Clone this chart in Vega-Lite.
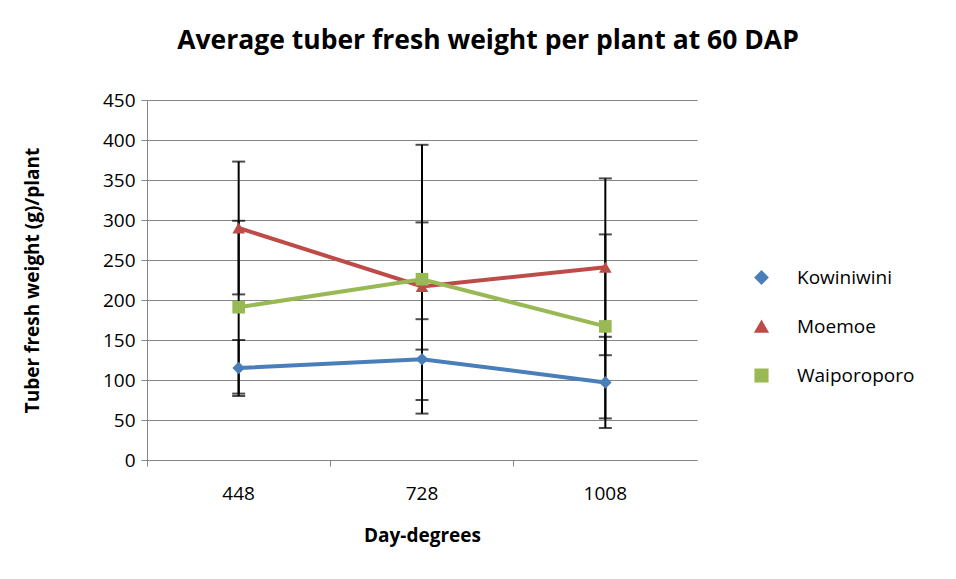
{
  "$schema": "https://vega.github.io/schema/vega-lite/v6.json",
  "autosize": {"type": "none"},
  "width": 550,
  "height": 360,
  "padding": {"left": 147, "top": 100, "right": 259, "bottom": 119},
  "background": "white",
  "title": {
    "text": "Average tuber fresh weight per plant at 60 DAP",
    "font": "Open Sans",
    "fontSize": 26.5,
    "fontWeight": "bold",
    "color": "black",
    "anchor": "middle",
    "dx": 66,
    "offset": 37
  },
  "data": {
    "values": [
      {"day": "448", "variety": "Kowiniwini", "mean": 115, "lo": 80, "hi": 150},
      {"day": "728", "variety": "Kowiniwini", "mean": 126, "lo": 75, "hi": 176},
      {"day": "1008", "variety": "Kowiniwini", "mean": 97, "lo": 40, "hi": 154},
      {"day": "448", "variety": "Moemoe", "mean": 290, "lo": 207, "hi": 373},
      {"day": "728", "variety": "Moemoe", "mean": 217, "lo": 138, "hi": 297},
      {"day": "1008", "variety": "Moemoe", "mean": 241, "lo": 131, "hi": 352},
      {"day": "448", "variety": "Waiporoporo", "mean": 191, "lo": 83, "hi": 299},
      {"day": "728", "variety": "Waiporoporo", "mean": 226, "lo": 58, "hi": 394},
      {"day": "1008", "variety": "Waiporoporo", "mean": 167, "lo": 52, "hi": 282}
    ]
  },
  "encoding": {
    "x": {
      "field": "day",
      "type": "nominal",
      "sort": ["448", "728", "1008"],
      "scale": {"type": "band", "paddingInner": 0, "paddingOuter": 0},
      "axis": {
        "title": "Day-degrees",
        "titleFont": "Open Sans",
        "titleFontSize": 19,
        "titleFontWeight": "bold",
        "titleColor": "black",
        "titlePadding": 23,
        "labelFont": "Open Sans",
        "labelFontSize": 19,
        "labelColor": "black",
        "labelAngle": 0,
        "labelPadding": 18,
        "bandPosition": 0,
        "tickSize": 6,
        "tickColor": "#868686",
        "domainColor": "#868686",
        "grid": false
      }
    }
  },
  "layer": [
    {
      "mark": {"type": "rule", "color": "black", "strokeWidth": 2},
      "encoding": {
        "y": {
          "field": "lo",
          "type": "quantitative",
          "scale": {"domain": [0, 450], "nice": false},
          "axis": {
            "title": "Tuber fresh weight (g)/plant",
            "titleFont": "Open Sans",
            "titleFontSize": 19,
            "titleFontWeight": "bold",
            "titleColor": "black",
            "titlePadding": 60,
            "labelFont": "Open Sans",
            "labelFontSize": 19,
            "labelColor": "black",
            "labelPadding": 6,
            "labelOverlap": false,
            "values": [0, 50, 100, 150, 200, 250, 300, 350, 400, 450],
            "tickCount": 10,
            "tickSize": 6,
            "tickColor": "#868686",
            "domainColor": "#868686",
            "gridColor": "#868686",
            "gridWidth": 1.2
          }
        },
        "y2": {"field": "hi"}
      }
    },
    {
      "mark": {"type": "tick", "orient": "horizontal", "color": "black", "size": 13, "thickness": 2},
      "encoding": {"y": {"field": "lo", "type": "quantitative", "axis": {"values": [0, 50, 100, 150, 200, 250, 300, 350, 400, 450], "tickCount": 10}}}
    },
    {
      "mark": {"type": "tick", "orient": "horizontal", "color": "black", "size": 13, "thickness": 2},
      "encoding": {"y": {"field": "hi", "type": "quantitative", "axis": {"values": [0, 50, 100, 150, 200, 250, 300, 350, 400, 450], "tickCount": 10}}}
    },
    {
      "mark": {"type": "line", "strokeWidth": 4, "point": {"filled": true, "size": 160, "opacity": 1}},
      "encoding": {
        "y": {"field": "mean", "type": "quantitative", "axis": {"values": [0, 50, 100, 150, 200, 250, 300, 350, 400, 450], "tickCount": 10}},
        "color": {
          "field": "variety",
          "type": "nominal",
          "scale": {"domain": ["Kowiniwini", "Moemoe", "Waiporoporo"], "range": ["#4A7EBB", "#BE4B48", "#98B954"]},
          "legend": {
            "title": null,
            "orient": "none",
            "legendX": 605,
            "legendY": 168,
            "labelFont": "Open Sans",
            "labelFontSize": 19,
            "labelColor": "black",
            "symbolSize": 160,
            "rowPadding": 29,
            "labelOffset": 26
          }
        },
        "shape": {
          "field": "variety",
          "type": "nominal",
          "scale": {"domain": ["Kowiniwini", "Moemoe", "Waiporoporo"], "range": ["diamond", "triangle-up", "square"]}
        }
      }
    }
  ],
  "config": {"view": {"stroke": null}}
}
